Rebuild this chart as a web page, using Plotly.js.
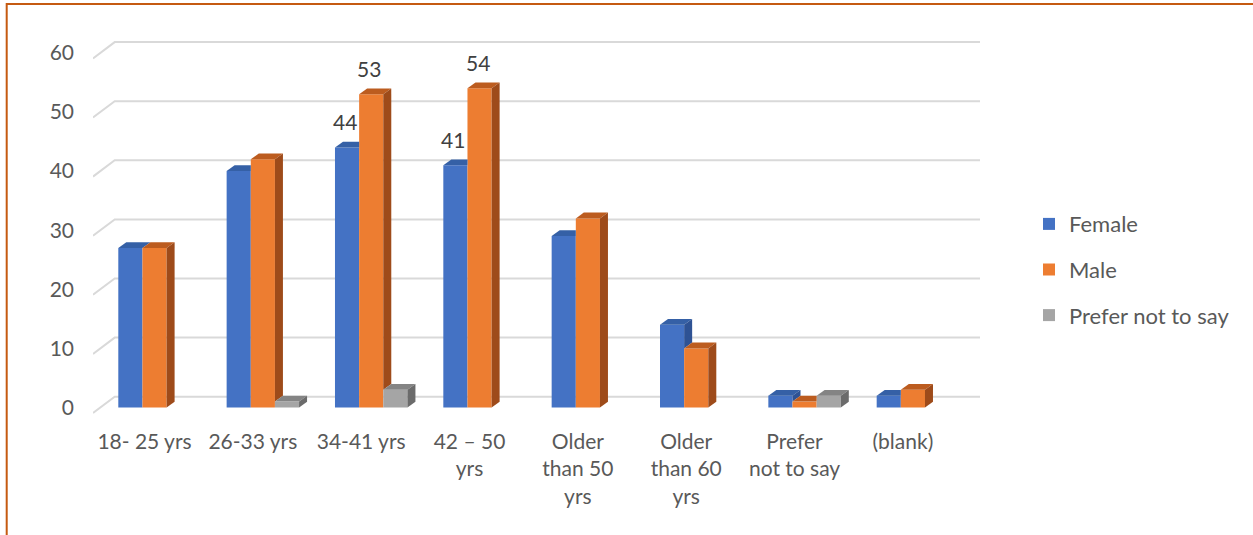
<!DOCTYPE html>
<html><head><meta charset="utf-8">
<script src="https://cdn.plot.ly/plotly-3.0.1.min.js"></script>
<style>html,body{margin:0;padding:0;background:#fff;overflow:hidden}#chart{width:1253px;height:535px}</style>
</head><body><div id="chart"></div>
<script>
// ---- data ----
const categories = ['18- 25 yrs', '26-33 yrs', '34-41 yrs', '42 – 50 yrs', 'Older than 50 yrs', 'Older than 60 yrs', 'Prefer not to say', '(blank)'];
const tickLabels = ['18- 25 yrs', '26-33 yrs', '34-41 yrs', '42 – 50<br>yrs', 'Older<br>than 50<br>yrs', 'Older<br>than 60<br>yrs', 'Prefer<br>not to say', '(blank)'];
const seriesNames = ['Female', 'Male', 'Prefer not to say'];
const female = [27, 40, 44, 41, 29, 14, 2, 2];
const male = [27, 42, 53, 54, 32, 10, 1, 3];
const preferNot = [0, 1, 3, 0, 0, 0, 2, 0];
const femaleLabels = ['', '', '44', '41', '', '', '', ''];
const maleLabels = ['', '', '53', '54', '', '', '', ''];
const preferLabels = ['', '', '', '', '', '', '', ''];
const yTicks = [0, 10, 20, 30, 40, 50, 60];

// ---- styling / geometry ----
const FONT = 'Lato, "Open Sans", sans-serif';
const TXT = '#595959';
const W = 1253, H = 535, ML = 93, MR = 273, MT = 38, MB = 118;
const xRange = [-0.4754, 7.7118];
const yRange = [-1.607, 62.52];
const pxX = (W - ML - MR) / (xRange[1] - xRange[0]);
const pxY = (H - MT - MB) / (yRange[1] - yRange[0]);
const barW = 24.15 / pxX;
const offs = [-26.2 / pxX, -26.2 / pxX + barW, -26.2 / pxX + 2 * barW];
const dx = 8 / pxX, dy = 5.8 / pxY;
const frontC = ['#4472C4', '#ED7D31', '#A5A5A5'];
const topC = ['#3560A6', '#BC5C1F', '#848484'];
const sideC = ['#2E5294', '#9E4B1A', '#6B6B6B'];
const series = [female, male, preferNot];
const labels = [femaleLabels, maleLabels, preferLabels];

const traces = series.map((vals, k) => ({
  type: 'bar', name: seriesNames[k], x: categories, y: vals,
  width: barW, offset: offs[k], legendgroup: 'g' + k,
  marker: { color: frontC[k], line: { width: 0 } },
  hoverinfo: 'x+y+name'
}));

const shapes = [];
// orange frame
shapes.push({ type: 'rect', xref: 'paper', yref: 'paper', layer: 'below',
  x0: (6.7 - ML) / (W - ML - MR), x1: 1.4, y0: -0.6, y1: (H - MB - 4.1) / (H - MT - MB),
  line: { color: '#C55A11', width: 2 }, fillcolor: 'rgba(0,0,0,0)' });
// 3D-style gridlines (front edge -> back wall)
const gFront = 5.5 / pxY, gBack = 10.8 / pxY, gDx = 21.7 / pxX;
yTicks.forEach(v => {
  const x0 = xRange[0], x1 = xRange[0] + gDx, x2 = xRange[1];
  shapes.push({ type: 'path', xref: 'x', yref: 'y', layer: 'below',
    path: `M${x0},${v - gFront}L${x1},${v + gBack}L${x2},${v + gBack}`,
    line: { color: '#D9D9D9', width: 2 } });
});
// 3D top and side faces of bars
categories.forEach((c, i) => {
  series.forEach((vals, k) => {
    const v = vals[i];
    if (!v) return;
    const m = k < series.length - 1 ? series[k + 1][i] : 0;
    const L = i + offs[k], R = L + barW;
    let topPath;
    if (m > v) topPath = `M${L},${v}L${R},${v}L${R},${v + dy}L${L + dx},${v + dy}Z`;
    else topPath = `M${L},${v}L${R},${v}L${R + dx},${v + dy}L${L + dx},${v + dy}Z`;
    shapes.push({ type: 'path', xref: 'x', yref: 'y', layer: 'above', path: topPath,
      fillcolor: topC[k], line: { width: 0 } });
    if (m < v) {
      const lo = Math.max(m, 0);
      shapes.push({ type: 'path', xref: 'x', yref: 'y', layer: 'above',
        path: `M${R},${lo}L${R + dx},${lo + dy}L${R + dx},${v + dy}L${R},${v}Z`,
        fillcolor: sideC[k], line: { width: 0 } });
    }
  });
});

const annotations = [];
labels.forEach((arr, k) => arr.forEach((t, i) => {
  if (!t) return;
  annotations.push({ xref: 'x', yref: 'y', x: i + offs[k] + barW / 2, y: series[k][i],
    text: t, showarrow: false, yanchor: 'middle', xanchor: 'center', yshift: 26, xshift: -2,
    font: { family: FONT, size: 21, color: '#404040' } });
}));

const layout = {
  width: W, height: H,
  margin: { l: ML, r: MR, t: MT, b: MB, pad: 0 },
  paper_bgcolor: '#ffffff', plot_bgcolor: 'rgba(0,0,0,0)',
  barmode: 'overlay',
  font: { family: FONT, size: 21, color: TXT },
  xaxis: { type: 'category', range: xRange, tickvals: categories, ticktext: tickLabels,
    showgrid: false, zeroline: false, showline: false, ticks: '', fixedrange: true,
    tickfont: { family: FONT, size: 21, color: TXT }, ticklabelstandoff: 10 },
  yaxis: { range: yRange, tickvals: yTicks, showgrid: false, zeroline: false, showline: false,
    ticks: '', fixedrange: true, ticklabelshift: 0.5, ticklabelstandoff: 18,
    tickfont: { family: FONT, size: 21, color: TXT } },
  showlegend: true,
  legend: { x: (1029 - ML) / (W - ML - MR), xanchor: 'left', y: (H - MB - 269.6) / (H - MT - MB), yanchor: 'middle',
    traceorder: 'grouped', tracegroupgap: 14, font: { family: FONT, size: 22, color: TXT },
    bgcolor: 'rgba(0,0,0,0)' },
  shapes: shapes, annotations: annotations
};
Plotly.newPlot('chart', traces, layout, { displayModeBar: false, responsive: false });
</script></body></html>
